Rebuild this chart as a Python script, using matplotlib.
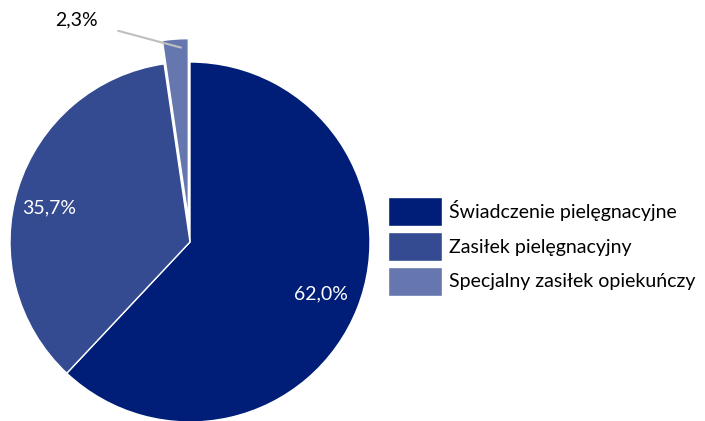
import matplotlib
matplotlib.use('Agg')
import matplotlib.pyplot as plt

categories = ['Świadczenie pielęgnacyjne', 'Zasiłek pielęgnacyjny', 'Specjalny zasiłek opiekuńczy']
shares = [62.0, 35.7, 2.3]
labels = ['62,0%', '35,7%', '2,3%']
colors = ['#001E78', '#344A91', '#6577AE']

plt.rcParams['font.family'] = ['Lato', 'DejaVu Sans']

W, H = 705, 421
fig = plt.figure(figsize=(W / 100, H / 100), dpi=100)
ax = fig.add_axes([0, 0, 1, 1])
ax.axis('off')

# pie centre at (190, 242) px, radius 180 px
cx, cy, r = 190, 242, 180

wedges, texts, autotexts = ax.pie(
    shares, colors=colors, startangle=90, counterclock=False,
    explode=[0, 0, 0.13], radius=1,
    autopct='%1.1f%%', pctdistance=0.78,
    wedgeprops=dict(edgecolor='white', linewidth=1),
    textprops=dict(fontsize=14, color='white'))
ax.set_xlim(-cx / r, (W - cx) / r)
ax.set_ylim(-(H - cy) / r, cy / r)

for t, lab in zip(autotexts, labels):
    t.set_text(lab)
autotexts[1].set_position((-0.78, 0.19))
autotexts[2].set_visible(False)

ax.annotate(labels[2], xy=(-0.05, 1.08), xytext=(-0.63, 1.235),
            fontsize=14, color='black', ha='center', va='center',
            arrowprops=dict(arrowstyle='-', color='#BFBFBF', lw=1.5,
                            shrinkA=13, shrinkB=0))

fig.legend(wedges, categories, loc='center left',
           bbox_to_anchor=(388 / W, 1 - 246.5 / H),
           frameon=False, fontsize=14, borderpad=0, borderaxespad=0,
           handlelength=2.8, handleheight=1.9, labelspacing=0.3,
           handletextpad=0.35)

fig.savefig('out.png', dpi=100)
